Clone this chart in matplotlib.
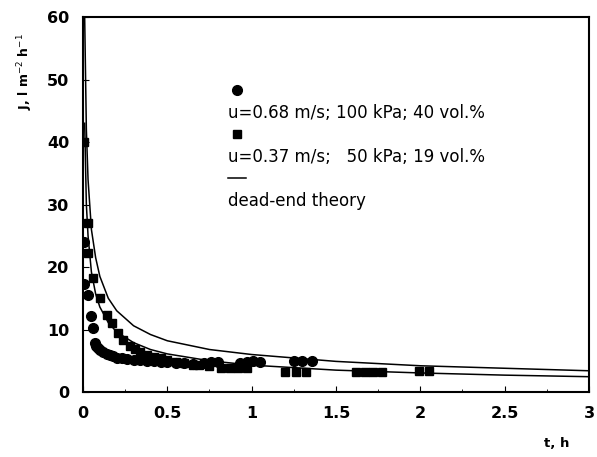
import matplotlib
matplotlib.use("Agg")
import matplotlib.pyplot as plt
from matplotlib.lines import Line2D
from matplotlib.ticker import MultipleLocator

# u=0.68 m/s; 100 kPa; 40 vol.%  (circles)
t_circ = [0.005, 0.005, 0.03, 0.05, 0.058, 0.07, 0.08, 0.09, 0.1, 0.12, 0.14, 0.16,
          0.18, 0.2, 0.23, 0.26, 0.3, 0.34, 0.38, 0.42, 0.46, 0.5, 0.55, 0.6, 0.65,
          0.72, 0.76, 0.8, 0.93, 0.97, 1.01, 1.05, 1.25, 1.3, 1.36]
J_circ = [24, 17.3, 15.5, 12.2, 10.2, 7.8, 7.4, 7.1, 6.8, 6.4, 6.1, 5.9,
          5.7, 5.5, 5.4, 5.3, 5.2, 5.1, 5.0, 4.9, 4.85, 4.8, 4.7, 4.6, 4.55,
          4.7, 4.8, 4.75, 4.7, 4.8, 4.9, 4.85, 4.9, 4.9, 4.9]

# u=0.37 m/s; 50 kPa; 19 vol.%  (squares)
t_sq = [0.005, 0.03, 0.03, 0.06, 0.1, 0.14, 0.17, 0.21, 0.24, 0.28, 0.31, 0.34,
        0.38, 0.42, 0.46, 0.5, 0.55, 0.6, 0.65, 0.69, 0.75, 0.82, 0.87, 0.92, 0.97,
        1.2, 1.26, 1.32, 1.62, 1.67, 1.72, 1.77, 1.99, 2.05]
J_sq = [40, 27, 22.2, 18.2, 15, 12.3, 11, 9.4, 8.3, 7.3, 6.9, 6.45,
        6.0, 5.65, 5.4, 5.1, 4.8, 4.6, 4.4, 4.3, 4.1, 3.9, 3.8, 3.8, 3.9,
        3.25, 3.25, 3.25, 3.2, 3.2, 3.2, 3.2, 3.4, 3.4]

# dead-end theory curves
t_th = [0.01, 0.02, 0.03, 0.05, 0.075, 0.1, 0.15, 0.2, 0.3, 0.4, 0.5, 0.75,
        1.0, 1.5, 2.0, 2.5, 3.0]
J_th_upper = [60, 42, 34, 26, 21.5, 18.5, 15, 13, 10.6, 9.2, 8.2, 6.8,
              6.0, 4.9, 4.2, 3.8, 3.4]
J_th_lower = [43, 30, 25, 19.2, 15.7, 13.6, 11.1, 9.6, 7.9, 6.8, 6.1, 5.0,
              4.3, 3.5, 3.05, 2.7, 2.45]

x_ticks = [0, 0.5, 1, 1.5, 2, 2.5, 3]
x_ticklabels = ["0", "0.5", "1", "1.5", "2", "2.5", "3"]

labels = ["u=0.68 m/s; 100 kPa; 40 vol.%",
          "u=0.37 m/s;   50 kPa; 19 vol.%",
          "dead-end theory"]

fig = plt.figure(figsize=(5.97, 4.57), dpi=100)
ax = fig.add_axes([0.139, 0.1422, 0.8476, 0.8206])

ax.plot(t_th, J_th_upper, color="black", lw=1.1)
ax.plot(t_th, J_th_lower, color="black", lw=1.1)
ax.plot(t_circ, J_circ, "o", color="black", ms=7, mec="black")
ax.plot(t_sq, J_sq, "s", color="black", ms=6.3, mec="black")

ax.set_xlim(0, 3)
ax.set_ylim(0, 60)
ax.set_xticks(x_ticks)
ax.set_xticklabels(x_ticklabels)
ax.xaxis.set_minor_locator(MultipleLocator(0.25))
ax.yaxis.set_major_locator(MultipleLocator(10))
ax.tick_params(which="major", direction="in", length=4, width=0.8,
               labelsize=11.5, pad=10)
ax.tick_params(which="minor", direction="in", length=2, width=0.6)
for lab in ax.get_xticklabels() + ax.get_yticklabels():
    lab.set_fontweight("bold")
for sp in ax.spines.values():
    sp.set_linewidth(1.5)

ax.set_ylabel(r"J, l m$^{-2}$ h$^{-1}$", fontsize=9, fontweight="bold",
              rotation=90, ha="center", va="center")
ax.yaxis.set_label_coords(-0.115, 0.855)
ax.set_xlabel("t, h", fontsize=9.5, fontweight="bold", ha="center", va="center")
ax.xaxis.set_label_coords(0.937, -0.136)

# legend: marker on one row, its text on the next
blank = Line2D([], [], linestyle="none", marker=None)
handles = [Line2D([], [], linestyle="none", marker="o", color="black", ms=7),
           blank,
           Line2D([], [], linestyle="none", marker="s", color="black", ms=6.3),
           blank,
           Line2D([], [], color="black", lw=1.1),
           blank]
leg_labels = ["", labels[0], "", labels[1], "", labels[2]]
ax.legend(handles, leg_labels, loc="upper left", bbox_to_anchor=(0.286, 0.826),
          frameon=False, fontsize=12, handlelength=1.1, handletextpad=-1.1,
          labelspacing=0.24, borderpad=0, borderaxespad=0)

fig.savefig("out.png", dpi=100)
